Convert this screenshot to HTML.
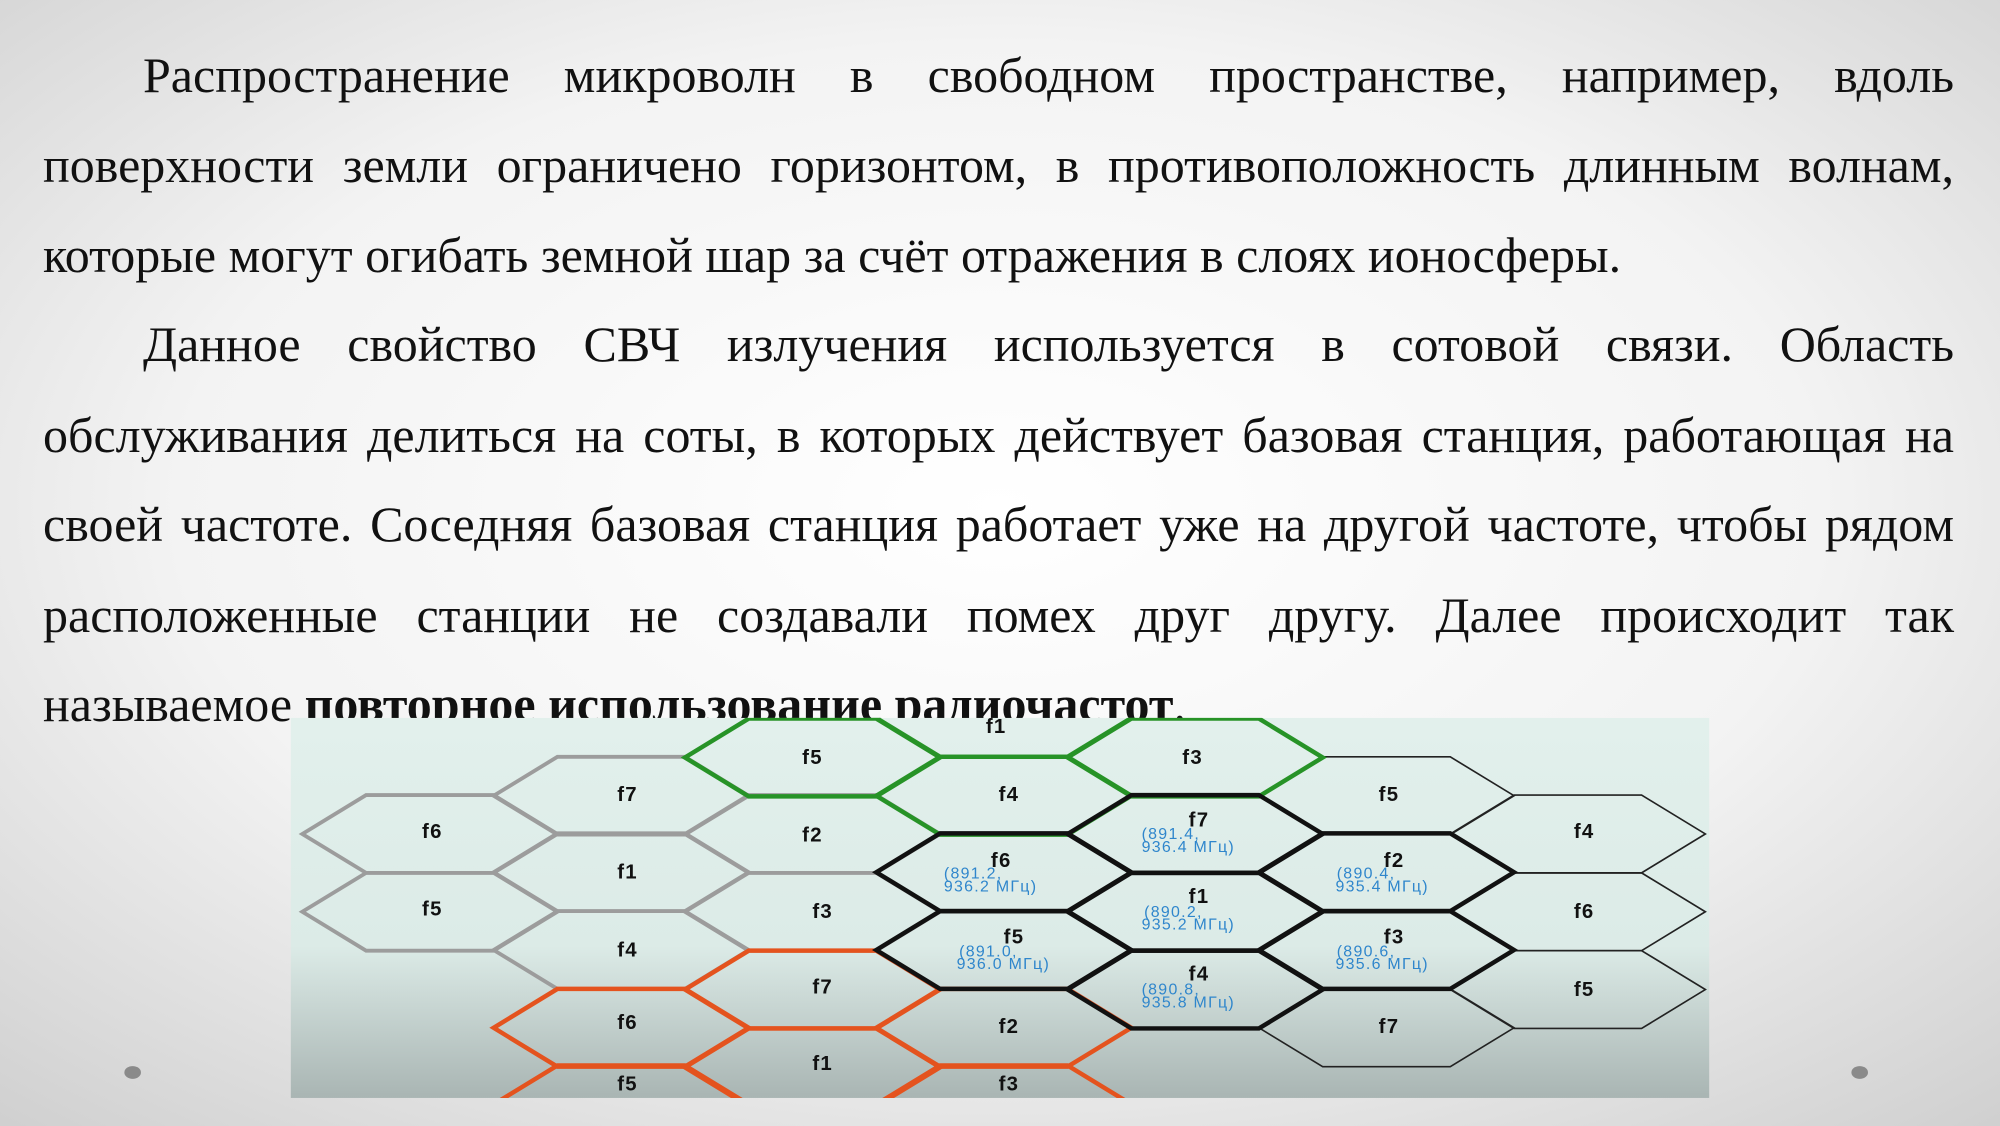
<!DOCTYPE html>
<html><head><meta charset="utf-8"><style>
html,body{margin:0;padding:0;width:2000px;height:1126px;overflow:hidden;position:relative}
svg{display:block;position:absolute;left:0;top:0}
.ln{position:absolute;left:43px;width:1911px;font-family:"Liberation Serif",serif;font-size:50px;line-height:50px;color:#111;text-align:justify;text-align-last:justify;white-space:nowrap}
.ln.nj{text-align:left;text-align-last:left}
.ind{left:143px;width:1811px}
.l{font-family:"Liberation Sans",sans-serif;font-weight:bold;font-size:16px;fill:#111;text-anchor:middle;letter-spacing:1px}
.b{font-family:"Liberation Sans",sans-serif;font-size:12.5px;fill:#2f86cc;letter-spacing:1px}
</style></head><body>
<svg width="2000" height="1126" viewBox="0 0 1568 883" preserveAspectRatio="none">
<defs>
<radialGradient id="bg" cx="50%" cy="45%" r="75%">
<stop offset="0" stop-color="#ffffff"/><stop offset="0.55" stop-color="#f3f3f3"/><stop offset="1" stop-color="#cfcfcf"/>
</radialGradient>
</defs>
<rect width="1568" height="883" fill="url(#bg)"/>
<ellipse cx="104" cy="841" rx="6.5" ry="5" fill="#8a8a8a"/>
<ellipse cx="1458" cy="841" rx="6.5" ry="5" fill="#8a8a8a"/>
</svg>
<div class="ln ind" style="top:50px">Распространение микроволн в свободном пространстве, например, вдоль</div>
<div class="ln" style="top:140px">поверхности земли ограничено горизонтом, в противоположность длинным волнам,</div>
<div class="ln nj" style="top:230px">которые могут огибать земной шар за счёт отражения в слоях ионосферы.</div>
<div class="ln ind" style="top:319px">Данное свойство СВЧ излучения используется в сотовой связи. Область</div>
<div class="ln" style="top:410px">обслуживания делиться на соты, в которых действует базовая станция, работающая на</div>
<div class="ln" style="top:499px">своей частоте. Соседняя базовая станция работает уже на другой частоте, чтобы рядом</div>
<div class="ln" style="top:590px">расположенные станции не создавали помех друг другу. Далее происходит так</div>
<div class="ln nj" style="top:679px">называемое <b>повторное использование радиочастот</b>.</div>
<svg width="2000" height="1126" viewBox="0 0 1568 883" preserveAspectRatio="none">
<defs>
<linearGradient id="ig" x1="0" y1="0" x2="0" y2="1">
<stop offset="0" stop-color="#e2f0ec"/><stop offset="0.6" stop-color="#dcebe7"/><stop offset="1" stop-color="#a9b5b3"/>
</linearGradient>
<polygon id="h" points="-100,0 -50,-30.5 50,-30.5 100,0 50,30.5 -50,30.5" fill="none"/>
<clipPath id="c"><rect x="228" y="563" width="1112" height="298"/></clipPath>
</defs>
<rect x="228" y="563" width="1112" height="298" fill="url(#ig)"/>
<g clip-path="url(#c)">
<g stroke="#222" stroke-width="1.3">
<use href="#h" x="1087" y="624"/><use href="#h" x="1087" y="806"/>
<use href="#h" x="1237" y="654"/><use href="#h" x="1237" y="715"/><use href="#h" x="1237" y="776"/>
</g>
<g stroke="#9c9c9c" stroke-width="3">
<use href="#h" x="337" y="654"/><use href="#h" x="337" y="715"/>
<use href="#h" x="487" y="624"/><use href="#h" x="487" y="684"/><use href="#h" x="487" y="745"/>
<use href="#h" x="637" y="654"/><use href="#h" x="637" y="715"/>
</g>
<g stroke="#e4531e" stroke-width="3.5">
<use href="#h" x="487" y="806"/><use href="#h" x="487" y="866"/>
<use href="#h" x="637" y="776"/><use href="#h" x="637" y="837"/><use href="#h" x="637" y="898"/>
<use href="#h" x="787" y="806"/><use href="#h" x="787" y="866"/>
</g>
<g stroke="#279327" stroke-width="3.5">
<use href="#h" x="637" y="594"/><use href="#h" x="787" y="563"/><use href="#h" x="787" y="624"/><use href="#h" x="937" y="594"/>
</g>
<g stroke="#111" stroke-width="3.5">
<use href="#h" x="787" y="684"/><use href="#h" x="787" y="745"/>
<use href="#h" x="937" y="654"/><use href="#h" x="937" y="715"/><use href="#h" x="937" y="776"/>
<use href="#h" x="1087" y="684"/><use href="#h" x="1087" y="745"/>
</g>
<g class="l">
<text x="339" y="657">f6</text><text x="339" y="718">f5</text>
<text x="492" y="628">f7</text><text x="492" y="689">f1</text><text x="492" y="750">f4</text><text x="492" y="807">f6</text><text x="492" y="855">f5</text>
<text x="637" y="599">f5</text><text x="637" y="660">f2</text><text x="645" y="720">f3</text><text x="645" y="779">f7</text><text x="645" y="839">f1</text>
<text x="781" y="575">f1</text><text x="791" y="628">f4</text><text x="791" y="810">f2</text><text x="791" y="855">f3</text>
<text x="935" y="599">f3</text>
<text x="1089" y="628">f5</text><text x="1089" y="810">f7</text>
<text x="1242" y="657">f4</text><text x="1242" y="720">f6</text><text x="1242" y="781">f5</text>
<text x="785" y="680">f6</text><text x="795" y="740">f5</text>
<text x="940" y="648">f7</text><text x="940" y="708">f1</text><text x="940" y="769">f4</text>
<text x="1093" y="680">f2</text><text x="1093" y="740">f3</text>
</g>
<g class="b">
<text x="740" y="689">(891.2,</text><text x="740" y="699">936.2 МГц)</text>
<text x="752" y="750">(891.0,</text><text x="750" y="760">936.0 МГц)</text>
<text x="895" y="658">(891.4,</text><text x="895" y="668">936.4 МГц)</text>
<text x="897" y="719">(890.2,</text><text x="895" y="729">935.2 МГц)</text>
<text x="895" y="780">(890.8,</text><text x="895" y="790">935.8 МГц)</text>
<text x="1048" y="689">(890.4,</text><text x="1047" y="699">935.4 МГц)</text>
<text x="1048" y="750">(890.6,</text><text x="1047" y="760">935.6 МГц)</text>
</g>
</g>
</svg>
</body></html>
